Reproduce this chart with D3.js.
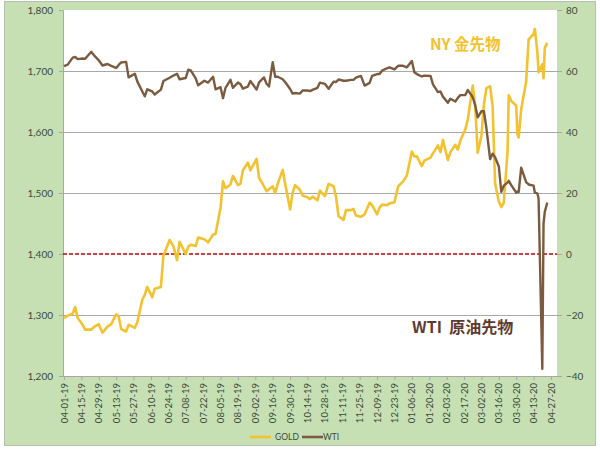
<!DOCTYPE html>
<html><head><meta charset="utf-8">
<script src="https://cdn.jsdelivr.net/npm/d3@7"></script>
<style>html,body{margin:0;padding:0;background:#fff;}svg{display:block;}</style>
</head><body><svg id="chart" width="600" height="452"></svg>
<script>
const dates = ["2019-04-01","2019-04-04","2019-04-08","2019-04-10","2019-04-12","2019-04-16","2019-04-18","2019-04-23","2019-04-25","2019-04-29",
"2019-05-02","2019-05-06","2019-05-09","2019-05-13","2019-05-15","2019-05-17","2019-05-21","2019-05-23","2019-05-28","2019-05-30",
"2019-06-03","2019-06-05","2019-06-07","2019-06-11","2019-06-13","2019-06-18","2019-06-20","2019-06-25","2019-06-28",
"2019-07-01","2019-07-03","2019-07-08","2019-07-10","2019-07-12","2019-07-16","2019-07-18","2019-07-23","2019-07-26","2019-07-30",
"2019-08-01","2019-08-05","2019-08-07","2019-08-09","2019-08-13","2019-08-15","2019-08-19","2019-08-21","2019-08-23","2019-08-27","2019-08-29",
"2019-09-03","2019-09-05","2019-09-09","2019-09-11","2019-09-13","2019-09-16","2019-09-18","2019-09-20","2019-09-24","2019-09-26","2019-09-30",
"2019-10-02","2019-10-04","2019-10-08","2019-10-10","2019-10-14","2019-10-16","2019-10-18","2019-10-22","2019-10-24","2019-10-28","2019-10-31",
"2019-11-04","2019-11-06","2019-11-08","2019-11-12","2019-11-14","2019-11-18","2019-11-20","2019-11-22","2019-11-26","2019-11-29",
"2019-12-03","2019-12-05","2019-12-09","2019-12-11","2019-12-13","2019-12-17","2019-12-19","2019-12-23","2019-12-26","2019-12-30",
"2020-01-02","2020-01-06","2020-01-08","2020-01-10","2020-01-14","2020-01-16","2020-01-21","2020-01-23","2020-01-27","2020-01-29","2020-01-31",
"2020-02-04","2020-02-06","2020-02-10","2020-02-12","2020-02-14","2020-02-18","2020-02-20","2020-02-24","2020-02-26","2020-02-28",
"2020-03-02","2020-03-04","2020-03-06","2020-03-09","2020-03-11","2020-03-13","2020-03-16","2020-03-18","2020-03-20","2020-03-23","2020-03-24","2020-03-26","2020-03-30","2020-03-31",
"2020-04-01","2020-04-03","2020-04-07","2020-04-09","2020-04-13","2020-04-14","2020-04-16","2020-04-17","2020-04-20","2020-04-21","2020-04-22","2020-04-24"];

const gold = [1295,1299,1302,1313,1295,1284,1276,1276,1280,1285,
1271,1281,1285,1301,1298,1277,1273,1284,1279,1288,
1325,1333,1346,1329,1343,1346,1397,1423,1413,
1390,1420,1400,1412,1415,1413,1427,1424,1419,1432,
1433,1476,1519,1508,1514,1528,1513,1515,1537,1550,1537,
1556,1525,1511,1503,1506,1511,1500,1515,1538,1515,1473,
1500,1513,1505,1496,1493,1490,1494,1488,1504,1495,1515,
1511,1493,1462,1456,1472,1472,1474,1463,1461,1465,
1484,1480,1465,1476,1481,1480,1483,1485,1511,1519,
1529,1568,1560,1560,1544,1553,1558,1565,1578,1567,1587,
1554,1567,1579,1571,1586,1604,1620,1676,1643,1566,
1594,1645,1672,1675,1642,1516,1486,1477,1484,1567,1660,1651,1643,1596,
1591,1637,1683,1752,1761,1769,1731,1698,1711,1688,1738,1746];

const wti = [61.6,62.1,64.4,64.6,63.9,64.1,64.0,66.3,65.2,63.5,
61.8,62.3,61.7,61.0,62.0,62.8,63.0,57.9,59.1,56.6,
53.3,51.7,54.0,53.3,52.3,53.9,56.7,57.8,58.5,
59.1,57.3,57.7,60.4,60.2,57.6,55.3,56.8,56.2,58.1,
54.0,54.7,51.1,54.5,57.1,54.5,56.2,55.7,54.2,54.9,56.7,
53.9,56.3,57.9,55.8,54.9,62.9,58.1,58.1,57.3,56.4,54.1,
52.6,52.8,52.6,53.6,53.6,53.4,53.8,54.5,56.2,55.8,54.2,
56.5,56.4,57.2,56.8,56.8,57.1,57.1,57.8,58.4,55.2,
56.1,58.4,59.0,59.0,60.1,60.9,61.2,60.5,61.7,61.7,
61.2,63.3,59.6,59.0,58.2,58.5,58.4,55.6,53.1,53.3,51.6,
49.6,50.9,50.0,51.2,52.1,52.1,53.8,51.4,48.7,44.8,
46.8,46.8,41.3,31.1,32.9,31.7,28.7,20.4,22.4,23.4,24.0,22.6,20.1,20.5,
20.3,28.3,23.6,22.8,22.4,20.1,19.9,18.3,-37.6,10.0,13.8,16.9];

const xTickLabels = ["04-01-19","04-15-19","04-29-19","05-13-19","05-27-19","06-10-19","06-24-19","07-08-19","07-22-19","08-05-19",
"08-19-19","09-02-19","09-16-19","09-30-19","10-14-19","10-28-19","11-11-19","11-25-19","12-09-19","12-23-19",
"01-06-20","01-20-20","02-03-20","02-17-20","03-02-20","03-16-20","03-30-20","04-13-20","04-27-20"];
const goldTicks = [1200,1300,1400,1500,1600,1700,1800];
const wtiTicks = [-40,-20,0,20,40,60,80];
const seriesNames = ["GOLD","WTI"];

const svg = d3.select("#chart");
const parseD = d3.timeParse("%Y-%m-%d");
const parseT = d3.timeParse("%m-%d-%y");
const fmt = d3.format(",");
const font = "Lato, 'Liberation Sans', sans-serif";

const L = 63, R = 557, T = 10, B = 376;
const x = d3.scaleTime().domain([parseT(xTickLabels[0]), parseT(xTickLabels[xTickLabels.length-1])]).range([64, 551]);
const yG = d3.scaleLinear().domain([1200,1800]).range([B, T]);
const yW = d3.scaleLinear().domain([-40,80]).range([B, T]);

// background
svg.append("rect").attr("x",4.5).attr("y",1.5).attr("width",591).attr("height",444)
  .attr("fill","#c6e0b4").attr("stroke","#b4bfb0").attr("stroke-width",1);
svg.append("rect").attr("x",L).attr("y",T).attr("width",R-L).attr("height",B-T).attr("fill","#fff");

// gridlines
svg.append("g").selectAll("line").data(goldTicks.filter(v => v !== 1200 && v !== 1400 && v !== 1800)).join("line")
  .attr("x1",L).attr("x2",R+5).attr("y1",d=>yG(d)+0.5).attr("y2",d=>yG(d)+0.5)
  .attr("stroke","#a8a8a8").attr("stroke-width",1);

// left axis
const gL = svg.append("g").attr("transform",`translate(${L},0)`)
  .call(d3.axisLeft(yG).tickValues(goldTicks).tickFormat(fmt).tickSize(4).tickPadding(6));
gL.select(".domain").attr("stroke","#a8a8a8");
gL.selectAll(".tick line").attr("stroke","#a8a8a8");
gL.selectAll("text").attr("font-family",font).attr("font-size",10).attr("fill","#3c4a3c");

// right axis
const gR = svg.append("g").attr("transform",`translate(${R},0)`)
  .call(d3.axisRight(yW).tickValues(wtiTicks).tickSize(5).tickPadding(4));
gR.select(".domain").remove();
gR.selectAll(".tick line").attr("stroke","#a8a8a8");
gR.selectAll("text").attr("font-family",font).attr("font-size",10).attr("fill","#3c4a3c");

// x axis
const gX = svg.append("g").attr("transform",`translate(0,${B})`)
  .call(d3.axisBottom(x).tickValues(xTickLabels.map(parseT)).tickFormat(d3.timeFormat("%m-%d-%y")).tickSize(4).tickPadding(4));
gX.select(".domain").attr("stroke","#a8a8a8").attr("d",`M${L},0.5H${R}`);
gX.selectAll(".tick line").attr("stroke","#a8a8a8");
gX.selectAll("text").attr("font-family",font).attr("font-size",9.5).attr("fill","#3c4a3c")
  .attr("text-anchor","end").attr("dy","0.32em").attr("dx",0)
  .attr("transform","translate(0,3) rotate(-90)").attr("x",-4).attr("y",0);

// zero line (WTI 0)
svg.append("line").attr("x1",L).attr("x2",R).attr("y1",yW(0)).attr("y2",yW(0))
  .attr("stroke","#c00000").attr("stroke-width",1.5).attr("stroke-dasharray","4,2");

const pts = dates.map(parseD);
const lineG = d3.line().x((d,i)=>x(pts[i])).y(d=>yG(d));
const lineW = d3.line().x((d,i)=>x(pts[i])).y(d=>yW(d));
svg.append("path").datum(gold).attr("d",lineG).attr("fill","none").attr("stroke","#f2c230").attr("stroke-width",2.6).attr("stroke-linejoin","round");
svg.append("path").datum(wti).attr("d",lineW).attr("fill","none").attr("stroke","#7b5b3f").attr("stroke-width",2.4).attr("stroke-linejoin","round");

// annotations
svg.append("text").attr("x",430).attr("y",50).attr("font-family","'Noto Sans CJK JP', sans-serif").attr("font-weight","bold")
  .attr("font-size",15.5).attr("fill","#f2c230").text("NY 金先物");
svg.append("text").attr("x",412).attr("y",333).attr("font-family","'Noto Sans CJK JP', sans-serif").attr("font-weight","bold")
  .attr("font-size",16).attr("fill","#5e3b32").attr("xml:space","preserve").text("WTI  原油先物");

// legend
const colors = ["#f2c230","#7b5b3f"];
const lg = svg.append("g");
[[250,275],[302,323]].forEach((p,i)=>{
  lg.append("line").attr("x1",p[0]).attr("x2",p[0]+21).attr("y1",437).attr("y2",437).attr("stroke",colors[i]).attr("stroke-width",2.6);
  lg.append("text").attr("x",p[1]).attr("y",440).attr("font-family",font).attr("font-size",8.5).attr("fill","#3c4a3c").text(seriesNames[i]);
});
</script></body></html>
